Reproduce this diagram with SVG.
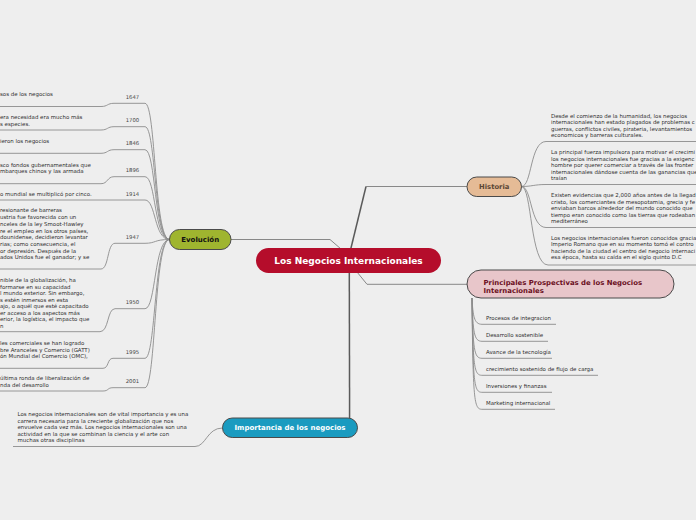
<svg xmlns="http://www.w3.org/2000/svg" width="696" height="520" viewBox="0 0 696 520">
<style>
.t{font-family:"DejaVu Sans","Liberation Sans",sans-serif;font-size:5.45px;fill:#2e2e2e}
.yr{font-family:"DejaVu Sans","Liberation Sans",sans-serif;font-size:5.3px;fill:#444;text-anchor:middle}
.h{font-family:"DejaVu Sans","Liberation Sans",sans-serif;font-weight:bold;text-anchor:middle}
.c{fill:none;stroke:#8c8c8c;stroke-width:0.9}
.m{fill:none;stroke:#5a5a5a;stroke-width:1.5}
.ml{fill:none;stroke:#888;stroke-width:1}
.n{stroke:#4a4a4a;stroke-width:1}
</style>
<rect width="696" height="520" fill="#eeeeee"/>
<g id="connectors">
<path class="ml" d="M231,239.5 H330 L341,249"/>
<path class="m" d="M350,252 L366,186.5"/>
<path class="ml" d="M366,186.5 H467"/>
<path class="ml" d="M357,272 L367,284.3 H467"/>
<path class="m" d="M349.3,268 L349.6,418"/>
<path class="c" d="M0,106.5 H101 C108,106.5 107,103.3 114,103.3 H145 C156,103.3 154,239.5 169.5,239.5"/>
<path class="c" d="M0,130 H101 C108,130 107,126.7 114,126.7 H145 C156,126.7 154,239.5 169.5,239.5"/>
<path class="c" d="M0,153.3 H101 C108,153.3 107,149.7 114,149.7 H145 C156,149.7 154,239.5 169.5,239.5"/>
<path class="c" d="M0,183.7 H101 C108,183.7 107,176.7 114,176.7 H145 C156,176.7 154,239.5 169.5,239.5"/>
<path class="c" d="M0,200 H145 C156,200 154,239.5 169.5,239.5"/>
<path class="c" d="M0,269 H101 C109,269 107,243.3 115,243.3 H145 C156,243.3 154,239.5 169.5,239.5"/>
<path class="c" d="M0,331.7 H100 C109,331.7 107,308.7 115,308.7 H145 C156,308.7 154,239.5 169.5,239.5"/>
<path class="c" d="M0,368.3 H103 C109,368.3 107,358.3 113,358.3 H145 C156,358.3 154,239.5 169.5,239.5"/>
<path class="c" d="M0,391 H103 C109,391 107,387.7 113,387.7 H145 C156,387.7 154,239.5 169.5,239.5"/>
<path class="c" d="M521.5,186.5 C532,186.5 530,141.5 546,141.5 H696"/>
<path class="c" d="M521.5,186.5 C532,186.5 534,184.5 546,184.5 H696"/>
<path class="c" d="M521.5,186.5 C532,186.5 530,227.5 546,227.5 H696"/>
<path class="c" d="M521.5,186.5 C532,186.5 530,265 548,265 H696"/>
<path class="c" d="M472,298 C473,316 474,324.3 482,324.3 H556"/>
<path class="c" d="M472,298 C473,333 474,341.3 482,341.3 H548"/>
<path class="c" d="M472,298 C473,350 474,358.3 482,358.3 H552"/>
<path class="c" d="M472,298 C473,367 474,375.3 482,375.3 H598"/>
<path class="c" d="M472,298 C473,384 474,392.3 482,392.3 H552"/>
<path class="c" d="M472,298 C473,401 474,409.3 482,409.3 H555"/>
<path class="c" d="M13,446.5 H195 C206,446.5 207,428 222.5,428"/>
</g>
<g id="central">
<rect x="256" y="248" width="185" height="25" rx="12.5" fill="#b50d2b"/>
<text class="h" x="348.5" y="264.2" font-size="9" fill="#ffffff">Los Negocios Internacionales</text>
</g>
<g id="evolucion">
<rect class="n" x="169.5" y="229.5" width="61.5" height="20" rx="10" fill="#9fb52f"/>
<text class="h" x="200.2" y="242" font-size="7" fill="#111">Evolución</text>
</g>
<g id="historia">
<rect class="n" x="467" y="177" width="54.5" height="19.5" rx="9.75" fill="#e5bb96"/>
<text class="h" x="494.2" y="189.2" font-size="6.8" fill="#5a4634">Historia</text>
</g>
<g id="principales">
<rect class="n" x="467" y="270" width="207" height="28" rx="14" fill="#e8c6ca"/>
<text class="h" x="483.5" y="284.6" font-size="6.9" fill="#6b0f22" style="text-anchor:start">Principales Prospectivas de los Negocios</text>
<text class="h" x="483.5" y="292.7" font-size="6.9" fill="#6b0f22" style="text-anchor:start">Internacionales</text>
</g>
<g id="importancia">
<rect class="n" x="222.5" y="418" width="135" height="19.5" rx="9.75" fill="#1a9bc0"/>
<text class="h" x="290" y="430.3" font-size="7" fill="#ffffff">Importancia de los negocios</text>
</g>
<g id="y1647"><text class="yr" x="132.5" y="99">1647</text><text class="t" x="0" y="95.9">sos de los negocios</text></g>
<g id="y1700"><text class="yr" x="132.5" y="122.4">1700</text><text class="t" x="0" y="119.2">era necesidad era mucho más</text><text class="t" x="0" y="125.9">s especies.</text></g>
<g id="y1846"><text class="yr" x="132.5" y="145.4">1846</text><text class="t" x="0" y="142.9">ieron los negocios</text></g>
<g id="y1896"><text class="yr" x="132.5" y="172.4">1896</text><text class="t" x="0" y="166.6">sco fondos gubernamentales que</text><text class="t" x="0" y="172.6">mbarques chinos y las armada</text></g>
<g id="y1914"><text class="yr" x="132.5" y="195.7">1914</text><text class="t" x="0" y="195.6">o mundial se multiplicó por cinco.</text></g>
<g id="y1947"><text class="yr" x="132.5" y="239">1947</text>
<text class="t" x="0" y="212.4">resionante de barreras</text>
<text class="t" x="0" y="219.1">ustria fue favorecida con un</text>
<text class="t" x="0" y="225.8">nceles de la ley Smoot-Hawley</text>
<text class="t" x="0" y="232.5">re el empleo en los otros países,</text>
<text class="t" x="0" y="239.2">dounidense, decidieron levantar</text>
<text class="t" x="0" y="245.9">rias; como consecuencia, el</text>
<text class="t" x="0" y="252.6">or depresión. Después de la</text>
<text class="t" x="0" y="259.3">ados Unidos fue el ganador; y se</text></g>
<g id="y1950"><text class="yr" x="132.5" y="304.4">1950</text>
<text class="t" x="0" y="282.4">nible de la globalización, ha</text>
<text class="t" x="0" y="288.9">formarse en su capacidad</text>
<text class="t" x="0" y="295.4">l mundo exterior. Sin embargo,</text>
<text class="t" x="0" y="301.9">s estén inmersos en esta</text>
<text class="t" x="0" y="308.4">ajo, o aquél que esté capacitado</text>
<text class="t" x="0" y="314.9">er acceso a los aspectos más</text>
<text class="t" x="0" y="321.4">erior, la logística, el impacto que</text>
<text class="t" x="0" y="327.9">n</text></g>
<g id="y1995"><text class="yr" x="132.5" y="354">1995</text>
<text class="t" x="0" y="345.4">les comerciales se han logrado</text>
<text class="t" x="0" y="351.7">bre Aranceles y Comercio (GATT)</text>
<text class="t" x="0" y="358">ón Mundial del Comercio (OMC),</text></g>
<g id="y2001"><text class="yr" x="132.5" y="383.4">2001</text>
<text class="t" x="0" y="380.4">última ronda de liberalización de</text>
<text class="t" x="0" y="386.9">nda del desarrollo</text></g>
<g id="hist1">
<text class="t" x="551" y="117.9">Desde el comienzo de la humanidad, los negocios</text>
<text class="t" x="551" y="124.4">internacionales han estado plagados de problemas c</text>
<text class="t" x="551" y="130.9">guerras, conflictos civiles, pirateria, levantamientos</text>
<text class="t" x="551" y="137.4">economicos y barreras culturales.</text></g>
<g id="hist2">
<text class="t" x="551" y="154.4">La principal fuerza impulsora para motivar el crecimi</text>
<text class="t" x="551" y="160.9">los negocios internacionales fue gracias a la exigenc</text>
<text class="t" x="551" y="167.4">hombre por querer comerciar a través de las fronter</text>
<text class="t" x="551" y="173.9">internacionales dándose cuenta de las ganancias que</text>
<text class="t" x="551" y="180.4">traían</text></g>
<g id="hist3">
<text class="t" x="551" y="197.4">Existen evidencias que 2,000 años antes de la llegad</text>
<text class="t" x="551" y="203.9">cristo, los comerciantes de mesopotamia, grecia y fe</text>
<text class="t" x="551" y="210.4">enviaban barcos alrededor del mundo conocido que</text>
<text class="t" x="551" y="216.9">tiempo eran conocido como las tierras que rodeaban</text>
<text class="t" x="551" y="223.4">mediterráneo</text></g>
<g id="hist4">
<text class="t" x="551" y="239.9">Los negocios internacionales fueron conocidos gracia</text>
<text class="t" x="551" y="246.4">Imperio Romano que en su momento tomó el contro</text>
<text class="t" x="551" y="252.9">haciendo de la ciudad el centro del negocio internaci</text>
<text class="t" x="551" y="259.4">esa época, hasta su caída en el siglo quinto D.C</text></g>
<g id="p1"><text class="t" x="486" y="320.2">Procesos de integracion</text></g>
<g id="p2"><text class="t" x="486" y="337.2">Desarrollo sostenible</text></g>
<g id="p3"><text class="t" x="486" y="354.2">Avance de la tecnología</text></g>
<g id="p4"><text class="t" x="486" y="371.2">crecimiento sostenido de flujo de carga</text></g>
<g id="p5"><text class="t" x="486" y="387.9">Inversiones y finanzas</text></g>
<g id="p6"><text class="t" x="486" y="404.9">Marketing internacional</text></g>
<g id="imp1">
<text class="t" x="17.5" y="416.2">Los negocios internacionales son de vital importancia y es una</text>
<text class="t" x="17.5" y="422.9">carrera necesaria para la creciente globalización que nos</text>
<text class="t" x="17.5" y="429.2">envuelve cada vez más. Los negocios internacionales son una</text>
<text class="t" x="17.5" y="435.6">actividad en la que se combinan la ciencia y el arte con</text>
<text class="t" x="17.5" y="441.9">muchas otras disciplinas</text></g>
</svg>
